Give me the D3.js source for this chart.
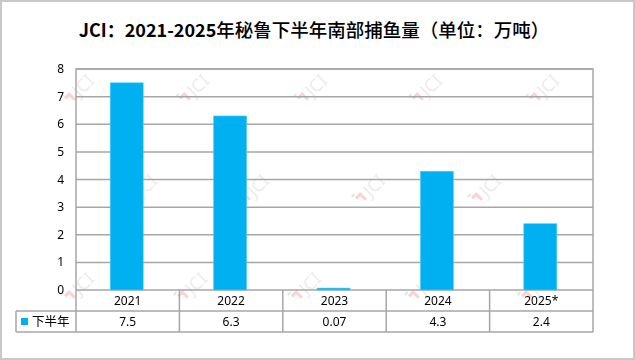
<!DOCTYPE html>
<html><head><meta charset="utf-8">
<script src="https://cdn.jsdelivr.net/npm/d3@7/dist/d3.min.js"></script>
<style>body{margin:0;background:#fff}svg{display:block}</style>
</head><body><svg id="c" width="635" height="360"></svg>
<script>
const categories = ["2021","2022","2023","2024","2025*"];
const seriesName = "下半年";
const values = [7.5, 6.3, 0.07, 4.3, 2.4];
const valueLabels = ["7.5","6.3","0.07","4.3","2.4"];
const yTicks = [0,1,2,3,4,5,6,7,8];
const titleA = "JCI：2021-2025";
const titleB = "年秘鲁下半年南部捕鱼量（单位：万吨）";

const W = 635, H = 360;
const m = {left:76, right:593, top:69, bottom:290};
const rowH = 21, legendLeft = 16;
const blue = "#00B0F0", gridC = "#A6A6A6";
const svg = d3.select("#c");
const font = "'Noto Sans','Noto Sans CJK SC',sans-serif";

svg.append("rect").attr("x",1).attr("y",1).attr("width",W-2).attr("height",H-2)
  .attr("fill","#fff").attr("stroke","#C8C8C8").attr("stroke-width",2);

const tt = svg.append("text").attr("x",314).attr("y",37).attr("text-anchor","middle")
  .attr("font-family","'Noto Sans CJK SC',sans-serif").attr("fill","#000");
tt.append("tspan").attr("font-weight","bold").attr("font-size",18).text(titleA);
tt.append("tspan").attr("font-weight",500).attr("font-size",18.5).text(titleB);

const x = d3.scaleBand().domain(categories).range([m.left,m.right]).paddingInner(0).paddingOuter(0);
const y = d3.scaleLinear().domain([0,8]).range([m.bottom,m.top]);

// watermarks
const wm = svg.append("g").attr("opacity",0.5);
const wmPos = [];
[[92,[77,192,310,425,542]],[192,[140,252,368,484]],[290,[77,190,304,421,534]]].forEach(([yy,xs])=>xs.forEach(xx=>wmPos.push([xx,yy])));
wmPos.forEach(([xx,yy])=>{
  const g = wm.append("g").attr("transform",`translate(${xx},${yy}) rotate(-45)`);
  g.append("path").attr("d","M-13,-4 L-7,-4 L-7,4").attr("fill","none").attr("stroke","#F4A6A6").attr("stroke-width",3);
  g.append("path").attr("d","M-15,-8 L-11,-8").attr("stroke","#A8D8B0").attr("stroke-width",2);
  g.append("text").attr("x",-2).attr("y",6).attr("font-family",font).attr("font-size",18)
    .attr("fill","#D8D8D8").text("JCI");
});

// gridlines
svg.append("g").selectAll("line").data(yTicks).join("line")
  .attr("x1",m.left).attr("x2",m.right).attr("y1",d=>y(d)).attr("y2",d=>y(d))
  .attr("stroke",gridC).attr("stroke-width",1.5);
// plot border
svg.append("path").attr("d",`M${m.left},${m.bottom} V${m.top} H${m.right} V${m.bottom}`)
  .attr("fill","none").attr("stroke",gridC).attr("stroke-width",1.5);

// y labels
svg.append("g").selectAll("text").data(yTicks).join("text")
  .attr("x",64).attr("y",d=>y(d)+4).attr("text-anchor","end")
  .attr("font-family",font).attr("font-size",12).attr("fill","#000").text(d=>d);

// bars
const bw = 33;
svg.append("g").selectAll("rect").data(values).join("rect")
  .attr("x",(d,i)=>x(categories[i])+x.bandwidth()/2-bw/2-1)
  .attr("width",bw).attr("y",d=>y(d)).attr("height",d=>y(0)-y(d))
  .attr("fill",blue).attr("stroke","#4FD0FF").attr("stroke-width",0.6);

// table
const t = svg.append("g").attr("stroke",gridC).attr("stroke-width",1.5).attr("fill","none");
t.append("line").attr("x1",legendLeft).attr("x2",m.right).attr("y1",m.bottom+rowH).attr("y2",m.bottom+rowH);
t.append("line").attr("x1",legendLeft).attr("x2",m.right).attr("y1",m.bottom+2*rowH).attr("y2",m.bottom+2*rowH);
t.append("line").attr("x1",legendLeft).attr("x2",legendLeft).attr("y1",m.bottom+rowH).attr("y2",m.bottom+2*rowH);
const cuts = categories.map(c=>x(c)).concat([m.right]);
t.selectAll(".v").data(cuts).join("line").attr("class","v")
  .attr("x1",d=>d).attr("x2",d=>d).attr("y1",m.bottom).attr("y2",m.bottom+2*rowH);

svg.append("g").selectAll("text").data(categories).join("text")
  .attr("x",d=>x(d)+x.bandwidth()/2).attr("y",m.bottom+15).attr("text-anchor","middle")
  .attr("font-family",font).attr("font-size",12).attr("fill","#000").text(d=>d);
svg.append("g").selectAll("text").data(valueLabels).join("text")
  .attr("x",(d,i)=>x(categories[i])+x.bandwidth()/2).attr("y",m.bottom+rowH+15).attr("text-anchor","middle")
  .attr("font-family",font).attr("font-size",12).attr("fill","#000").text(d=>d);

svg.append("rect").attr("x",21).attr("y",m.bottom+rowH+7).attr("width",7).attr("height",7).attr("fill",blue);
svg.append("text").attr("x",32).attr("y",m.bottom+rowH+15).attr("font-family","'Noto Sans CJK SC',sans-serif")
  .attr("font-size",12.5).attr("fill","#000").text(seriesName);
</script></body></html>
